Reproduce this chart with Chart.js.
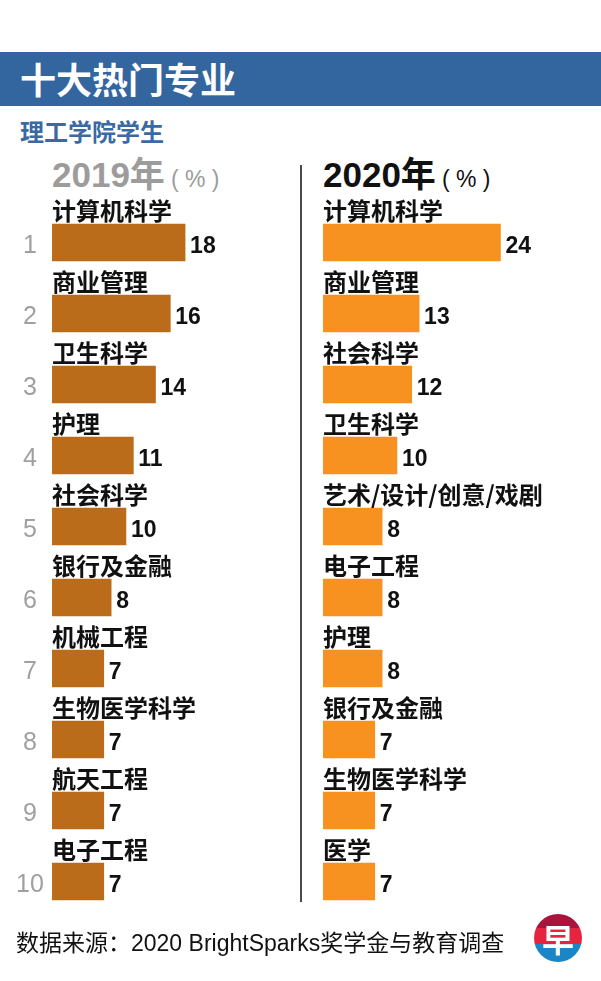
<!DOCTYPE html>
<html>
<head>
<meta charset="utf-8">
<script src="https://cdn.jsdelivr.net/npm/chart.js@4"></script>
<style>
  body { margin: 0; width: 601px; height: 981px; background: #fff; position: relative; overflow: hidden;
         font-family: "Liberation Sans", "Noto Sans CJK SC", sans-serif; }
  .abs { position: absolute; white-space: nowrap; }
  #header { left: 0; top: 52px; width: 601px; height: 54px; background: #33669f; }
  #title { left: 20px; top: 56px; font: bold 36px/44px "Noto Sans CJK SC", sans-serif; color: #fff; }
  #subtitle { left: 20px; top: 116px; font: bold 24px/30px "Noto Sans CJK SC", sans-serif; color: #3a69a3; }
  .colhead { top: 153px; font-weight: bold; font-size: 35px; line-height: 44px; }
  .colhead .pct { font-weight: normal; font-size: 23px; margin-left: 6px; }
  #h2019 { left: 52px; color: #9c9c9c; }
  #h2020 { left: 323px; color: #111; }
  #divider { left: 300px; top: 165px; width: 1.5px; height: 737px; background: #4a4a4a; }
  canvas { position: absolute; }
  #footer { left: 16px; top: 928px; font-size: 23px; line-height: 30px; color: #111; }
  #logo { left: 534px; top: 914px; width: 48px; height: 48px; border-radius: 50%; overflow: hidden;
          background: linear-gradient(to bottom, #a9143c 0 30%, #e52540 30% 62%, #1b86c6 62% 100%); }
  #logo span { position: absolute; left: 0; width: 48px; top: 4px; text-align: center; color: #fff;
               font: bold 32px/40px "Noto Sans CJK SC", sans-serif; }
</style>
</head>
<body>
<div id="header" class="abs"></div>
<div id="title" class="abs">十大热门专业</div>
<div id="subtitle" class="abs">理工学院学生</div>
<div id="h2019" class="abs colhead">2019年<span class="pct">(&nbsp;%&nbsp;)</span></div>
<div id="h2020" class="abs colhead">2020年<span class="pct">(&nbsp;%&nbsp;)</span></div>
<div id="divider" class="abs"></div>
<canvas id="chart2019" width="300" height="750" style="left:0;top:180px;"></canvas>
<canvas id="chart2020" width="300" height="750" style="left:301px;top:180px;"></canvas>
<div id="footer" class="abs">数据来源：2020 BrightSparks奖学金与教育调查</div>
<div id="logo" class="abs"><span>早</span></div>
<script>
// 2019 top ten majors (%)
const majors2019 = ["计算机科学", "商业管理", "卫生科学", "护理", "社会科学",
  "银行及金融", "机械工程", "生物医学科学", "航天工程", "电子工程"];
const values2019 = [18, 16, 14, 11, 10, 8, 7, 7, 7, 7];

// 2020 top ten majors (%)
const majors2020 = ["计算机科学", "商业管理", "社会科学", "卫生科学", "艺术/设计/创意/戏剧",
  "电子工程", "护理", "银行及金融", "生物医学科学", "医学"];
const values2020 = [24, 13, 12, 10, 8, 8, 8, 7, 7, 7];

const ranks = ["1", "2", "3", "4", "5", "6", "7", "8", "9", "10"];

const FONT = '"Liberation Sans", "Noto Sans CJK SC", sans-serif';

// draws the major name above each bar, the value after it, and optionally the rank
const barLabels = {
  id: "barLabels",
  afterDatasetsDraw(chart, args, opts) {
    const ctx = chart.ctx;
    const meta = chart.getDatasetMeta(0);
    const values = chart.data.datasets[0].data;
    ctx.save();
    meta.data.forEach((bar, i) => {
      const top = bar.y - bar.height / 2;
      ctx.fillStyle = "#111";
      ctx.textBaseline = "middle";
      ctx.textAlign = "left";
      ctx.font = 'bold 24px "Noto Sans CJK SC", sans-serif';
      ctx.fillText(chart.data.labels[i], bar.base, top - 13);
      ctx.font = "bold 23px " + FONT;
      ctx.fillText(values[i], bar.x + 5, bar.y + 4);
      if (opts.ranks) {
        ctx.fillStyle = "#a0a0a0";
        ctx.textAlign = "center";
        ctx.font = "25px " + FONT;
        ctx.fillText(opts.ranks[i], 30, bar.y + 4);
      }
    });
    ctx.restore();
  },
};

function makeChart(id, labels, values, color, padLeft, padRight, showRanks) {
  return new Chart(document.getElementById(id), {
    type: "bar",
    data: {
      labels: labels,
      datasets: [{ data: values, backgroundColor: color, barThickness: 37, borderWidth: 0 }],
    },
    options: {
      indexAxis: "y",
      responsive: false,
      animation: false,
      layout: { padding: { left: padLeft, right: padRight, top: 27, bottom: 13 } },
      scales: {
        x: { display: false, min: 0, max: 33 },
        y: { display: false },
      },
      plugins: {
        legend: { display: false },
        tooltip: { enabled: false },
        barLabels: { ranks: showRanks ? ranks : null },
      },
    },
    plugins: [barLabels],
  });
}

makeChart("chart2019", majors2019, values2019, "#bb6c1b", 52, 4, true);
makeChart("chart2020", majors2020, values2020, "#f7911f", 22, 34, false);
</script>
</body>
</html>
